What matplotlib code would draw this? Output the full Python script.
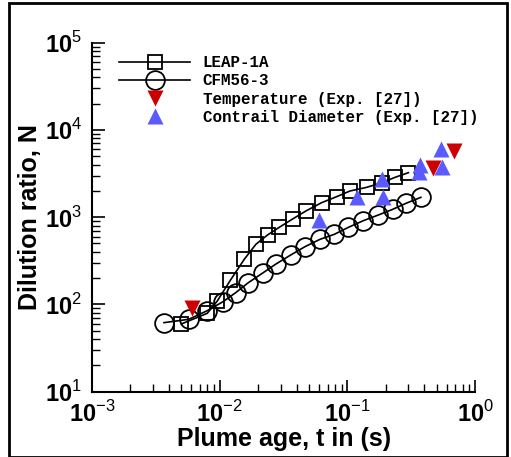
import numpy as np
import matplotlib
matplotlib.use("Agg")
import matplotlib.pyplot as plt
from matplotlib.ticker import FixedLocator, LogLocator, NullFormatter
from matplotlib.patches import Rectangle

plt.rcParams['mathtext.fontset'] = 'custom'
plt.rcParams['mathtext.rm'] = 'Liberation Sans'
plt.rcParams['mathtext.bf'] = 'Liberation Sans:bold'

# LEAP-1A simulation
leap_t = [0.00501, 0.00798, 0.00955, 0.01214, 0.01556, 0.01919, 0.02367, 0.0292,
          0.0372, 0.0473, 0.0628, 0.0823, 0.1047, 0.1415, 0.1855, 0.236, 0.300]
leap_n = [59.7, 79, 109, 190, 329, 489, 625, 764,
          953, 1178, 1467, 1718, 1995, 2198, 2484, 2863, 3236]

# CFM56-3 simulation
cfm_t = [0.00366, 0.00573, 0.00798, 0.01064, 0.0133, 0.0167, 0.0219, 0.0275, 0.0359,
         0.0465, 0.0609, 0.0789, 0.1016, 0.1331, 0.1745, 0.226, 0.2874, 0.375]
cfm_n = [61.8, 67.5, 84.7, 107.7, 136, 177, 231, 290, 368,
         459, 557, 636, 764, 912, 1059, 1230, 1442, 1687]

# experiments
temp_t = [0.00608, 0.466, 0.676]
temp_n = [90, 3690, 5780]
diam_t = [0.0601, 0.118, 0.1855, 0.189, 0.371, 0.366, 0.538, 0.547]
diam_n = [927, 1718, 2735, 1687, 3965, 3265, 5985, 3795]

fig = plt.figure(figsize=(5.11, 4.57), dpi=100)
ax = fig.add_axes([0.180, 0.143, 0.750, 0.7636])

ax.plot(leap_t, leap_n, color='black', lw=1.2, marker='s', ms=10.5,
        mfc='none', mec='black', mew=1.3, label='LEAP-1A')
ax.plot(cfm_t, cfm_n, color='black', lw=1.2, marker='o', ms=13.5,
        mfc='none', mec='black', mew=1.3, label='CFM56-3')
ax.plot(temp_t, temp_n, ls='none', marker='v', ms=12, color='#cc0000',
        mec='none', label='Temperature (Exp. [27])')
ax.plot(diam_t, diam_n, ls='none', marker='^', ms=12, color='#5a5aff',
        mec='none', label='Contrail Diameter (Exp. [27])')

ax.set_xscale('log')
ax.set_yscale('log')
ax.set_xlim(1e-3, 1e0)
ax.set_ylim(1e1, 1e5)

ax.xaxis.set_major_locator(FixedLocator([1e-3, 1e-2, 1e-1, 1e0]))
ax.yaxis.set_major_locator(FixedLocator([1e1, 1e2, 1e3, 1e4, 1e5]))
ax.xaxis.set_minor_locator(LogLocator(base=10, subs=np.arange(2, 10)))
ax.yaxis.set_minor_locator(LogLocator(base=10, subs=np.arange(2, 10)))
ax.xaxis.set_minor_formatter(NullFormatter())
ax.yaxis.set_minor_formatter(NullFormatter())
ax.set_xticklabels([r'$\mathbf{10}^{-3}$', r'$\mathbf{10}^{-2}$',
                    r'$\mathbf{10}^{-1}$', r'$\mathbf{10}^{0}$'])
ax.set_yticklabels([r'$\mathbf{10}^{1}$', r'$\mathbf{10}^{2}$', r'$\mathbf{10}^{3}$',
                    r'$\mathbf{10}^{4}$', r'$\mathbf{10}^{5}$'])

ax.tick_params(which='major', direction='in', length=9, width=1.2, labelsize=17, pad=7)
ax.tick_params(which='minor', direction='in', length=5.5, width=1.0)
ax.spines['top'].set_visible(False)
ax.spines['right'].set_visible(False)
ax.spines['left'].set_linewidth(1.5)
ax.spines['bottom'].set_linewidth(1.5)

ax.set_xlabel('Plume age, t in (s)', fontsize=18, fontweight='bold',
              family='Liberation Sans', labelpad=0)
ax.set_ylabel('Dilution ratio, N', fontsize=18, fontweight='bold',
              family='Liberation Sans', labelpad=2)

leg = ax.legend(loc='upper left', bbox_to_anchor=(0.033, 1.005), frameon=False,
                prop={'family': 'Liberation Mono', 'weight': 'bold', 'size': 11.4},
                handlelength=4.5, handletextpad=0.8, labelspacing=0.2)

fig.patches.append(Rectangle((0.018, 0.0), 0.974, 0.994, transform=fig.transFigure,
                             fill=False, edgecolor='black', lw=2))

fig.savefig('out.png', dpi=100)
